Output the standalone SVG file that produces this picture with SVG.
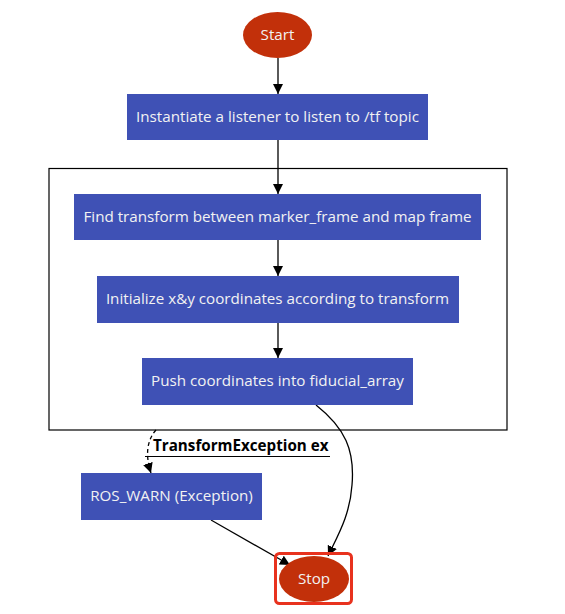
<svg xmlns="http://www.w3.org/2000/svg" width="565" height="614" viewBox="0 0 565 614">
<style>
.box{fill:#3f51b5;}
.term{fill:#c2300a;}
.lbl{font-family:"Open Sans","Noto Sans",sans-serif;font-size:15.2px;fill:#f2f2f2;text-anchor:middle;dominant-baseline:central;}
.edge{fill:none;stroke:#000;stroke-width:1.3;}
.elbl{font-family:"Open Sans","Noto Sans",sans-serif;font-size:15.2px;font-weight:bold;fill:#000;}
</style>
<defs>
<marker id="arr" viewBox="0 0 10 10" refX="10" refY="5" markerWidth="10" markerHeight="10" markerUnits="userSpaceOnUse" orient="auto">
<path d="M0,0 L10,5 L0,10 z" fill="#000"/>
</marker>
</defs>
<rect width="565" height="614" fill="#fff"/>
<g id="cluster">
<rect x="49" y="168.5" width="458" height="261.5" fill="none" stroke="#000" stroke-width="1.2"/>
</g>
<g id="connectors">
<path class="edge" d="M278,58 L278,94" marker-end="url(#arr)"/>
<path class="edge" d="M278,140 L278,194" marker-end="url(#arr)"/>
<path class="edge" d="M278,240 L278,276" marker-end="url(#arr)"/>
<path class="edge" d="M278,323 L278,358" marker-end="url(#arr)"/>
<path class="edge" d="M316,405 C345,428 355,450 352,485 C350,515 338,535 328,556" marker-end="url(#arr)"/>
<path class="edge" d="M156,430 C147,440 145,455 151,473" stroke-dasharray="4,3" marker-end="url(#arr)"/>
<path class="edge" d="M211,520 L290,565" marker-end="url(#arr)"/>
<text class="elbl" x="153" y="451">TransformException ex</text>
<line x1="145" y1="456.5" x2="330" y2="456.5" stroke="#000" stroke-width="1"/>
</g>
<g id="start">
<ellipse class="term" cx="277.5" cy="35" rx="34.5" ry="23"/>
<text class="lbl" x="277.5" y="34">Start</text>
</g>
<g id="n1">
<rect class="box" x="127" y="94" width="301" height="46"/>
<text class="lbl" x="277.5" y="116">Instantiate a listener to listen to /tf topic</text>
</g>
<g id="n2">
<rect class="box" x="74" y="194" width="407" height="46"/>
<text class="lbl" x="277.5" y="216">Find transform between marker_frame and map frame</text>
</g>
<g id="n3">
<rect class="box" x="97" y="276" width="362" height="47"/>
<text class="lbl" x="277.5" y="298">Initialize x&amp;y coordinates according to transform</text>
</g>
<g id="n4">
<rect class="box" x="142" y="358" width="271" height="47"/>
<text class="lbl" x="277.5" y="380">Push coordinates into fiducial_array</text>
</g>
<g id="n5">
<rect class="box" x="81" y="473" width="181" height="47"/>
<text class="lbl" x="171.5" y="495">ROS_WARN (Exception)</text>
</g>
<g id="stop">
<rect x="275.5" y="553.5" width="76" height="50" rx="4" fill="none" stroke="#e8321e" stroke-width="3"/>
<ellipse class="term" cx="314" cy="579" rx="35" ry="23"/>
<text class="lbl" x="314" y="578">Stop</text>
</g>
</svg>
